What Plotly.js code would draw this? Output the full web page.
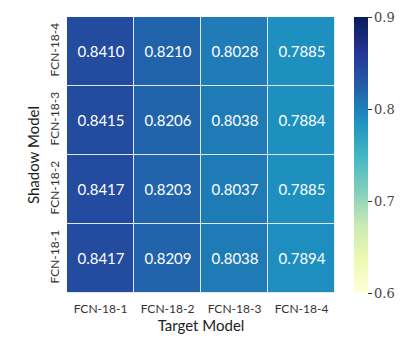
<!DOCTYPE html>
<html>
<head>
<meta charset="utf-8">
<script src="https://cdn.plot.ly/plotly-3.0.1.min.js"></script>
<style>
  html, body { margin: 0; padding: 0; background: #fff; }
  #chart { width: 415px; height: 346px; }
</style>
</head>
<body>
<div id="chart"></div>
<script>
// target models along x, shadow models along y (bottom to top)
var targetModels = ["FCN-18-1", "FCN-18-2", "FCN-18-3", "FCN-18-4"];
var shadowModels = ["FCN-18-1", "FCN-18-2", "FCN-18-3", "FCN-18-4"];

// one row per shadow model, same order as shadowModels
var rowShadow1 = [0.8417, 0.8209, 0.8038, 0.7894];
var rowShadow2 = [0.8417, 0.8203, 0.8037, 0.7885];
var rowShadow3 = [0.8415, 0.8206, 0.8038, 0.7884];
var rowShadow4 = [0.8410, 0.8210, 0.8028, 0.7885];

var colorTicks = [0.6, 0.7, 0.8, 0.9];

// matplotlib YlGnBu
var ylgnbu = ["#ffffd9", "#edf8b1", "#c7e9b4", "#7fcdbb", "#41b6c4",
              "#1d91c0", "#225ea8", "#253494", "#081d58"];
var scale = ylgnbu.map(function (c, i) { return [i / (ylgnbu.length - 1), c]; });

var sans = "Lato, sans-serif";

var data = [{
    type: "heatmap",
    x: targetModels,
    y: shadowModels,
    z: [rowShadow1, rowShadow2, rowShadow3, rowShadow4],
    zmin: 0.6,
    zmax: 0.9,
    colorscale: scale,
    xgap: 1,
    ygap: 1,
    texttemplate: "%{z:.4f}",
    textfont: { family: sans, size: 15, color: "#ffffff" },
    hoverinfo: "skip",
    colorbar: {
        x: 1.07,
        xanchor: "left",
        xref: "paper",
        y: 0,
        yanchor: "bottom",
        len: 1,
        lenmode: "fraction",
        ypad: 0,
        xpad: 0,
        thickness: 14,
        outlinewidth: 0,
        tickvals: colorTicks,
        ticktext: colorTicks.map(function (v) { return v.toFixed(1); }),
        ticks: "outside",
        ticklen: 4,
        tickwidth: 1,
        tickcolor: "#333",
        tickfont: { family: "DejaVu Serif, serif", size: 13, color: "#444" }
    }
}];

var layout = {
    width: 415,
    height: 346,
    margin: { l: 67, r: 80, t: 17, b: 53 },
    paper_bgcolor: "#ffffff",
    plot_bgcolor: "#dfe8f0",
    xaxis: {
        type: "category",
        ticks: "",
        showgrid: false,
        zeroline: false,
        ticklabelstandoff: 7,
        tickfont: { family: sans, size: 12, color: "#333" },
        title: { text: "Target Model", font: { family: sans, size: 15, color: "#222" }, standoff: 3 }
    },
    yaxis: {
        type: "category",
        ticks: "",
        showgrid: false,
        zeroline: false,
        tickangle: -90,
        ticklabelstandoff: 5,
        tickfont: { family: sans, size: 12, color: "#333" },
        title: { text: "Shadow Model", font: { family: sans, size: 15, color: "#222" }, standoff: 3 }
    }
};

Plotly.newPlot("chart", data, layout, { displayModeBar: false, staticPlot: true });
</script>
</body>
</html>
